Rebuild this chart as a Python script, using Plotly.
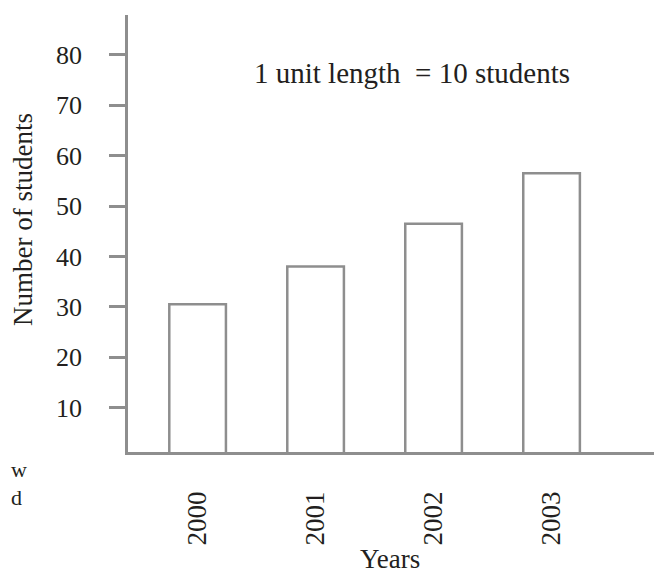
import plotly.graph_objects as go

# data
years = ["2000", "2001", "2002", "2003"]
students = [30.5, 38, 46.5, 56.5]
y_ticks = [10, 20, 30, 40, 50, 60, 70, 80]

AXIS_GREY = "#8e8e8e"
TEXT = "#231f20"
FONT = "Liberation Serif"
PAGE_PAD = 8  # default body margin of the html page

W, H = 662 - PAGE_PAD, 577 - PAGE_PAD
L, T, B = 128 - PAGE_PAD, 15 - PAGE_PAD, 577 - 452
plot_w = W - L
plot_h = H - T - B


def font(size=26):
    return dict(family=FONT, size=size, color=TEXT)


def px_to_paper(x, y):
    """Pixel position in the screenshot -> paper coords."""
    return (x - PAGE_PAD - L) / plot_w, (H - B - (y - PAGE_PAD)) / plot_h


def label(text, x, y, size, xanchor="center", angle=0):
    px, py = px_to_paper(x, y)
    return dict(text=text, x=px, y=py, xref="paper", yref="paper",
                showarrow=False, xanchor=xanchor, yanchor="middle",
                textangle=angle, font=font(size))


fig = go.Figure()
fig.add_trace(
    go.Bar(
        x=years,
        y=students,
        width=0.48,
        marker=dict(color="white", line=dict(color=AXIS_GREY, width=2.5)),
        showlegend=False,
    )
)

fig.update_layout(
    width=W,
    height=H,
    margin=dict(l=L, r=0, t=T, b=B),
    plot_bgcolor="white",
    paper_bgcolor="white",
    font=font(),
    annotations=[
        label("1 unit length \u00a0= 10 students", 412, 73, 29),
        label("Number of students", 23, 220, 27, angle=-90),
        label("Years", 390, 559, 27),
        label("w", 9, 469, 22, xanchor="left"),
        label("d", 9, 497, 22, xanchor="left"),
    ],
)

fig.update_xaxes(
    type="category",
    range=[-0.59, 3.936],
    showline=True,
    linecolor=AXIS_GREY,
    linewidth=2.5,
    showgrid=False,
    zeroline=False,
    ticks="",
    tickangle=-90,
    tickfont=font(27),
    ticklabelstandoff=26,
)
fig.update_yaxes(
    range=[1.2, 87.9],
    tickvals=y_ticks,
    showline=True,
    linecolor=AXIS_GREY,
    linewidth=2.5,
    showgrid=False,
    zeroline=False,
    ticks="outside",
    ticklen=16,
    tickwidth=2.5,
    tickcolor=AXIS_GREY,
    tickfont=font(26),
    ticklabelstandoff=22,
)

fig.write_html("out.html")
